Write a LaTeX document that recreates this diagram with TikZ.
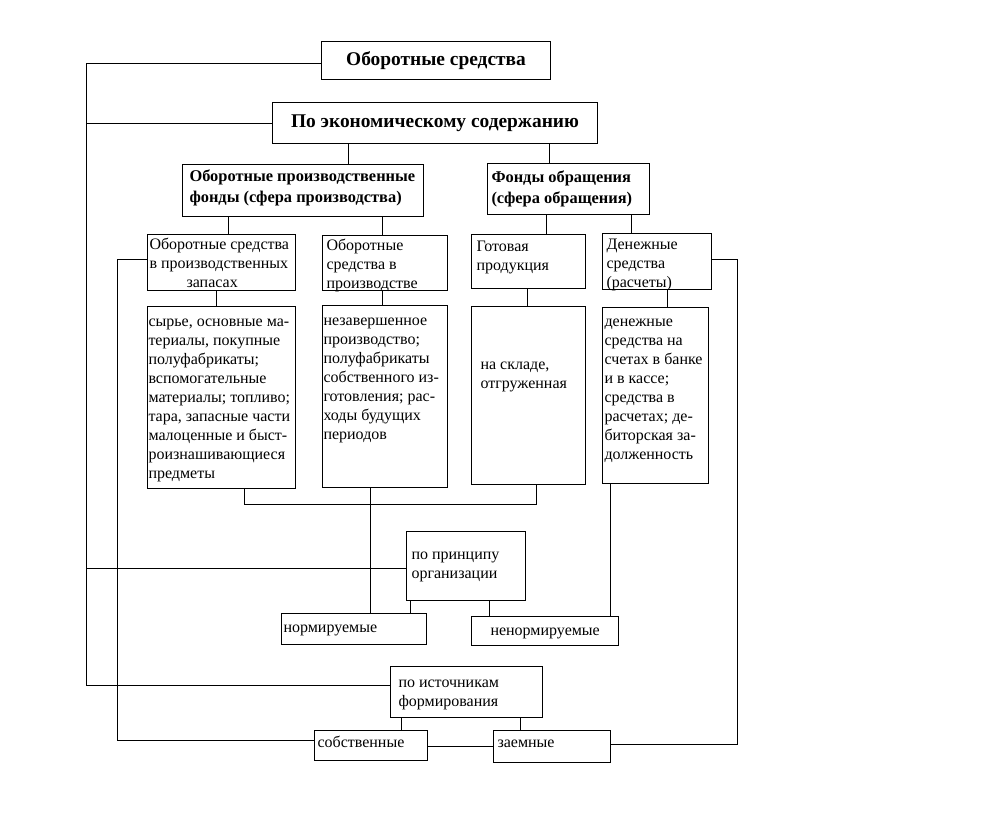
\documentclass[tikz,border=0pt]{standalone}
\usepackage{fontspec}
\setmainfont{Liberation Serif}

% text block of a box: width, height, left inset, first baseline, text
\newcommand{\cell}[5]{\parbox[t][#2pt][t]{#1pt}{\raggedright\leftskip=#3pt\relax
  \rightskip=-40pt plus 1fil\relax\rule{0pt}{#4pt}#5}}

\begin{document}
\begin{tikzpicture}[
  x=1pt, y=-1pt,
  box/.style={draw, line width=1pt, inner sep=0pt, anchor=north west,
    font=\fontsize{16}{19}\selectfont},
  head/.style={box, font=\bfseries\fontsize{19.4}{23}\selectfont},
  fund/.style={box, font=\bfseries\fontsize{16.4}{20.5}\selectfont},
  link/.style={line width=1pt}
]
  \fill[white] (0,0) rectangle (983,812);
  \coordinate (spine) at (86,0);
  \coordinate (inner) at (117,0);
  \coordinate (outer) at (737,0);

  % classification levels
  \node[head, minimum width=229pt, minimum height=38pt] (top) at (321,41) {Оборотные средства};
  \node[head, minimum width=325pt, minimum height=41pt] (econ) at (272,102) {По экономическому содержанию};
  \node[fund] (prod) at (182,164) {\cell{241}{52}{7}{17}{Оборотные производственные\\фонды (сфера производства)}};
  \node[fund] (circ) at (487,163) {\cell{162}{51}{4}{19}{Фонды обращения\\(сфера обращения)}};

  % groups
  \node[box] (stock) at (147,234) {\cell{148}{56}{2}{15}{Оборотные средства\\в производственных\\\hspace*{37pt}запасах}};
  \node[box] (inprod) at (322,235) {\cell{125}{55}{4}{15}{Оборотные\\средства в\\производстве}};
  \node[box] (goods) at (471,234) {\cell{114}{54}{5}{17}{Готовая\\продукция}};
  \node[box] (cash) at (602,233) {\cell{109}{56}{4}{16}{Денежные\\средства\\(расчеты)}};

  % contents
  \node[box] (stockd) at (147,306) {\cell{148}{182}{1}{20}{сырье, основные ма-\\териалы, покупные\\полуфабрикаты;\\вспомогательные\\материалы; топливо;\\тара, запасные части\\малоценные и быст-\\роизнашивающиеся\\предметы}};
  \node[box] (inprodd) at (322,305) {\cell{125}{182}{1}{20}{незавершенное\\производство;\\полуфабрикаты\\собственного из-\\готовления; рас-\\ходы будущих\\периодов}};
  \node[box] (goodsd) at (471,306) {\cell{114}{178}{9}{63}{на складе,\\отгруженная}};
  \node[box] (cashd) at (602,307) {\cell{106}{176}{2}{19}{денежные\\средства на\\счетах в банке\\и в кассе;\\средства в\\расчетах; де-\\биторская за-\\долженность}};

  % other criteria
  \node[box] (org) at (406,531) {\cell{119}{69}{5}{28}{по принципу\\организации}};
  \node[box] (norm) at (281,613) {\cell{145}{31}{2}{19}{нормируемые}};
  \node[box] (nonnorm) at (471,616) {\cell{147}{29}{19}{19}{ненормируемые}};
  \node[box] (src) at (390,666) {\cell{152}{51}{8}{21}{по источникам\\формирования}};
  \node[box] (own) at (314,730) {\cell{113}{30}{3}{17}{собственные}};
  \node[box] (loan) at (493,730) {\cell{117}{32}{4}{17}{заемные}};

  % vertical links
  \foreach \x/\a/\b in {348/econ/prod, 549/econ/circ, 228/prod/stock, 382/prod/inprod,
      546/circ/goods, 631/circ/cash, 216/stock/stockd, 382/inprod/inprodd,
      527/goods/goodsd, 667/cash/cashd, 370/inprodd/norm, 610/cashd/nonnorm,
      410/org/norm, 489/org/nonnorm, 401/src/own, 520/src/loan}
    \draw[link] (\x,0 |- \a.south) -- (\x,0 |- \b.north);

  % side lines
  \draw[link] (top.west |- 0,63) -| (spine |- 0,685) -- (src.west |- 0,685);
  \draw[link] (spine |- econ.west) -- (econ.west);
  \draw[link] (spine |- 0,568) -- (org.west |- 0,568);
  \draw[link] (stock.west |- 0,259) -| (inner |- 0,740) -- (own.west |- 0,740);
  \draw[link] (cash.east |- 0,259) -| (outer |- 0,744) -- (loan.east |- 0,744);
  \draw[link] (own.east |- 0,746) -- (loan.west |- 0,746);
  \draw[link] (244,0 |- stockd.south) -- (244,504) -- (536,504) -- (536,0 |- goodsd.south);
\end{tikzpicture}
\end{document}
